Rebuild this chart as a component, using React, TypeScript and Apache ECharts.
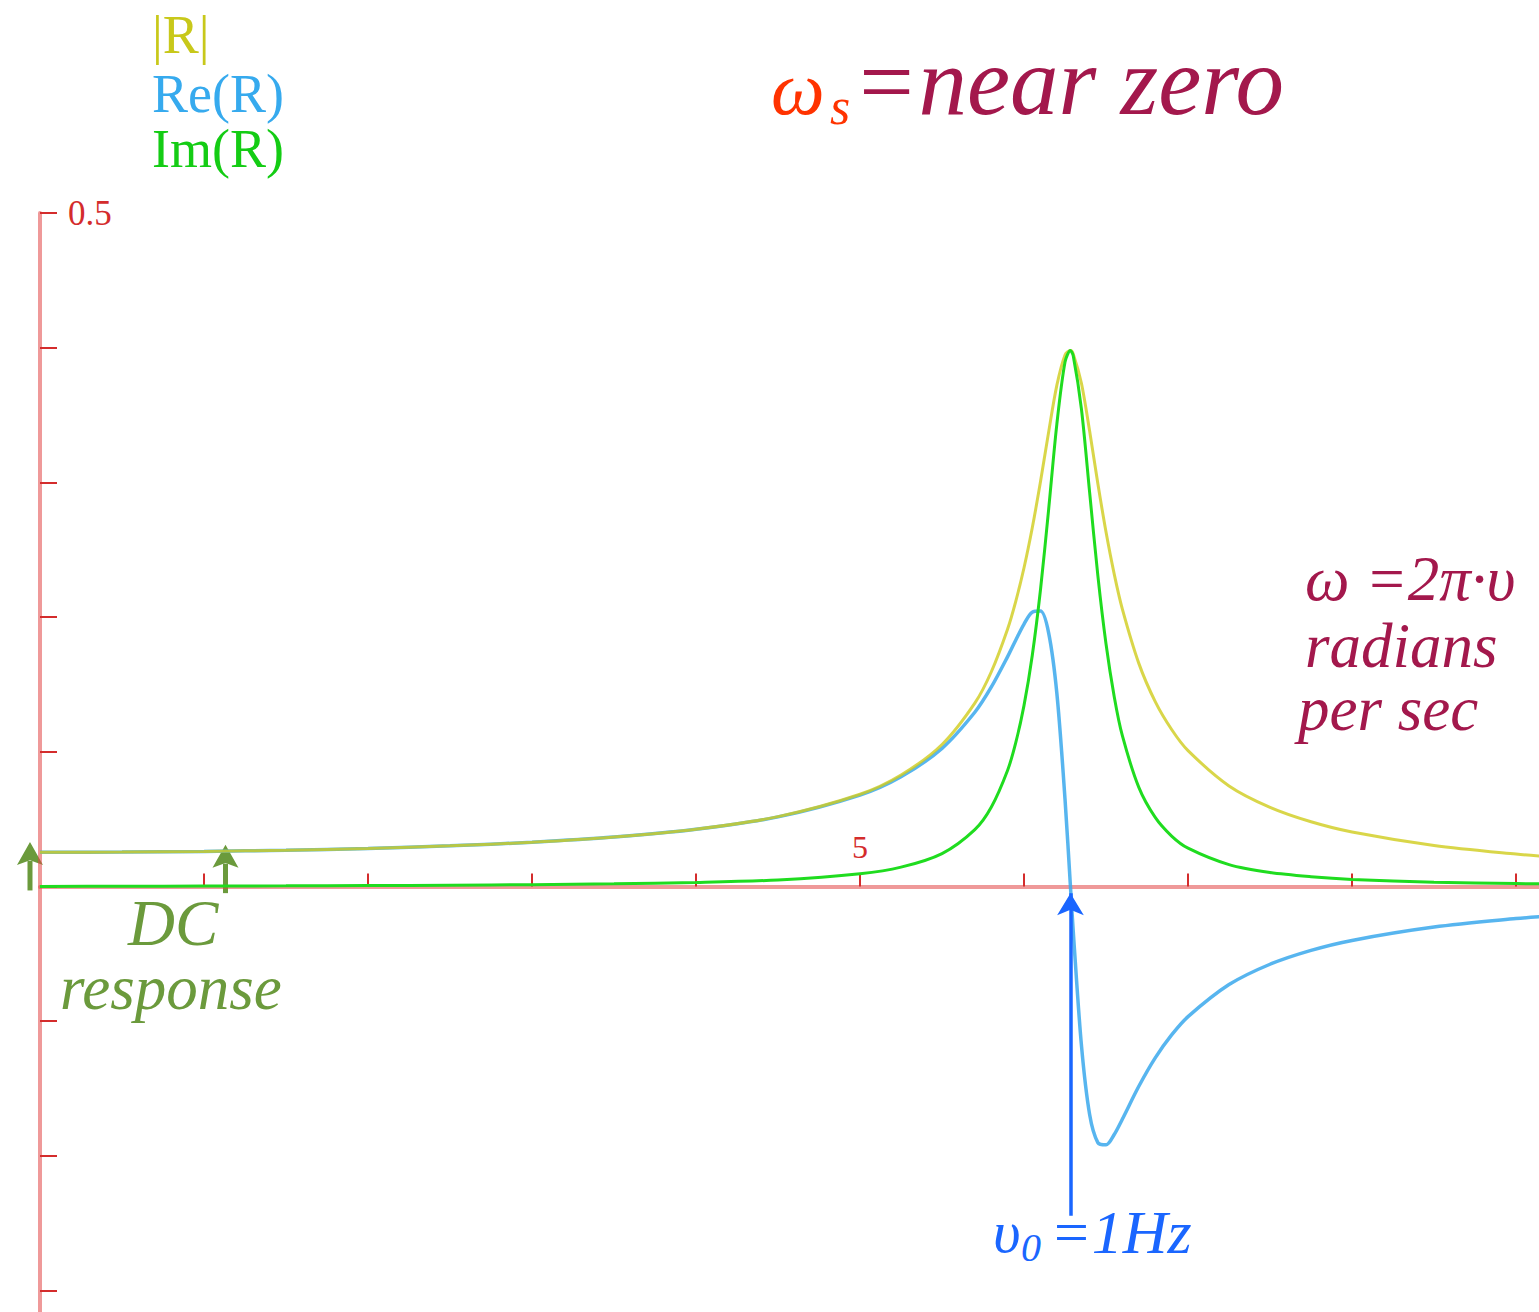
import React, { useEffect, useRef } from "react";
import * as echarts from "echarts";

// Angular frequency samples (rad/s), denser around the resonance at 2π
const omega = [
  0, 0.5, 1, 1.5, 2, 2.5, 3, 3.5, 4, 4.5, 5, 5.25, 5.5, 5.7, 5.8, 5.9, 5.95, 6,
  6.05, 6.1, 6.15, 6.2, 6.25, 6.283, 6.3, 6.35, 6.4, 6.45, 6.5, 6.55, 6.6, 6.7,
  6.8, 6.9, 7, 7.25, 7.5, 7.75, 8, 8.5, 9, 9.2,
];

// |R|
const magR = [
  0.0253, 0.0255, 0.026, 0.0269, 0.0282, 0.0301, 0.0328, 0.0367, 0.0425, 0.0518,
  0.0684, 0.0827, 0.1054, 0.1361, 0.1592, 0.1912, 0.2119, 0.2366, 0.2661, 0.3002,
  0.3373, 0.372, 0.3946, 0.3979, 0.3954, 0.3736, 0.3381, 0.2992, 0.2631, 0.2319,
  0.2057, 0.1656, 0.1372, 0.1165, 0.1008, 0.0746, 0.0587, 0.048, 0.0404, 0.0304,
  0.024, 0.0221,
];

// Re(R)
const reR = [
  0.0253, 0.0255, 0.026, 0.0269, 0.0282, 0.0301, 0.0328, 0.0366, 0.0424, 0.0516,
  0.0678, 0.0814, 0.1025, 0.1293, 0.1479, 0.1706, 0.183, 0.1948, 0.2036, 0.2044,
  0.1883, 0.1436, 0.0647, 0, -0.0332, -0.1179, -0.1694, -0.1902, -0.1919, -0.1842,
  -0.1727, -0.1484, -0.1273, -0.1103, -0.0967, -0.0729, -0.0578, -0.0475, -0.0401,
  -0.0302, -0.0239, -0.022,
];

// Im(R)
const imR = [
  0, 0.0001, 0.0003, 0.0004, 0.0006, 0.0009, 0.0013, 0.0019, 0.0029, 0.0048,
  0.0094, 0.0143, 0.0244, 0.0422, 0.0588, 0.0863, 0.1069, 0.1344, 0.1713, 0.2199,
  0.2798, 0.3431, 0.3893, 0.3979, 0.394, 0.3545, 0.2926, 0.231, 0.18, 0.1409,
  0.1117, 0.0735, 0.0512, 0.0374, 0.0284, 0.0162, 0.0103, 0.0072, 0.0052, 0.0031,
  0.0021, 0.0018,
];

const xTicks = [1, 2, 3, 4, 5, 6, 7, 8, 9];
const xLabelValue = 5;
const yTicks = [-0.3, -0.2, -0.1, 0, 0.1, 0.2, 0.3, 0.4, 0.5];
const yLabels = [0.5];

// resonance ω0 = 2π (ν0 = 1 Hz)
const omega0 = 6.2832;
// DC-response pointers: [ω, bottom, tip]
const dcArrows = [
  [-0.061, -0.003, 0.033],
  [1.131, -0.005, 0.031],
];

const AXIS_RED = "rgba(226,70,70,0.55)";
const TICK_RED = "#d42c2c";
const MAROON = "#a3184c";
const DC_GREEN = "#6b9a3c";
const SERIF = "Liberation Serif";

const pairs = (ys: number[]) => omega.map((x, i) => [x, ys[i]]);

const txt = (
  text: string,
  x: number,
  y: number,
  size: number,
  color: string,
  italic = true
) => ({
  type: "text",
  x,
  y,
  silent: true,
  style: {
    text,
    fill: color,
    fontFamily: SERIF,
    fontSize: size,
    fontStyle: italic ? "italic" : "normal",
    align: "left",
    verticalAlign: "middle",
  },
});

const labels = [
  // series key
  txt("|R|", 152, 35, 54, "#c8c81a", false),
  txt("Re(R)", 152, 94, 54, "#36aaee", false),
  txt("Im(R)", 152, 149, 54, "#14cc14", false),
  // heading
  txt("ω", 771, 88, 76, "#ff3300"),
  txt("s", 830, 106, 52, "#ff3300"),
  txt("=near zero", 853, 81, 97, MAROON),
  // frequency axis note
  txt("ω =2π·υ", 1305, 579, 63, MAROON),
  txt("radians", 1305, 646, 63, MAROON),
  txt("per sec", 1298, 709, 63, MAROON),
  // DC note
  txt("DC", 128, 923, 65, DC_GREEN),
  txt("response", 60, 988, 63, DC_GREEN),
  // resonance note
  txt("υ", 993, 1232, 60, "#1a66ff"),
  txt("0", 1021, 1247, 40, "#1a66ff"),
  txt("=1Hz", 1050, 1232, 62, "#1a66ff"),
];

export default function App() {
  const ref = useRef<HTMLDivElement>(null);

  useEffect(() => {
    if (!ref.current) return;
    const chart = echarts.init(ref.current, null, { renderer: "svg" });

    chart.setOption({
      animation: false,
      backgroundColor: "#ffffff",
      grid: { left: 40, right: 0, top: 213, bottom: 0, containLabel: false },
      xAxis: {
        type: "value",
        min: 0,
        max: 9.14,
        interval: 1,
        axisLine: { onZero: true, lineStyle: { color: AXIS_RED, width: 4 } },
        axisTick: {
          inside: true,
          length: 13,
          customValues: xTicks,
          lineStyle: { color: TICK_RED, width: 2 },
        },
        axisLabel: { show: false },
        splitLine: { show: false },
      },
      yAxis: {
        type: "value",
        min: -0.316,
        max: 0.5,
        axisLine: { onZero: false, lineStyle: { color: AXIS_RED, width: 4 } },
        axisTick: {
          inside: true,
          length: 17,
          customValues: yTicks,
          lineStyle: { color: TICK_RED, width: 2 },
        },
        axisLabel: {
          inside: true,
          margin: 28,
          customValues: yLabels,
          color: TICK_RED,
          fontFamily: SERIF,
          fontSize: 35,
        },
        splitLine: { show: false },
      },
      series: [
        {
          name: "Re(R)",
          type: "line",
          data: pairs(reR),
          smooth: 0.3,
          symbol: "none",
          clip: false,
          z: 2,
          lineStyle: { color: "#3aa8ec", width: 3.5, opacity: 0.85 },
          markLine: {
            silent: true,
            symbol: ["none", "arrow"],
            symbolSize: [20, 22],
            label: { show: false },
            emphasis: { disabled: true },
            lineStyle: { color: "#1a66ff", width: 3.5, type: "solid" },
            data: [[{ coord: [omega0, -0.2446] }, { coord: [omega0, -0.005] }]],
          },
        },
        {
          name: "|R|",
          type: "line",
          data: pairs(magR),
          smooth: 0.3,
          symbol: "none",
          clip: false,
          z: 3,
          lineStyle: { color: "#d0cc1c", width: 3, opacity: 0.8 },
        },
        {
          name: "Im(R)",
          type: "line",
          data: pairs(imR),
          smooth: 0.3,
          symbol: "none",
          clip: false,
          z: 4,
          lineStyle: { color: "#1fdc1f", width: 3 },
          // frequency tick label "5", placed just above the ω axis
          markPoint: {
            silent: true,
            symbol: "circle",
            symbolSize: 1,
            itemStyle: { color: "rgba(0,0,0,0)" },
            label: {
              show: true,
              position: "top",
              distance: 23,
              formatter: String(xLabelValue),
              color: TICK_RED,
              fontFamily: SERIF,
              fontSize: 32,
            },
            data: [{ coord: [xLabelValue, 0] }],
          },
        },
      ],
    });

    // DC pointers sit partly left of the plot, so they are drawn as graphics
    // positioned through the chart's own coordinate conversion.
    const arrowEls = dcArrows.map(([w, y0, y1]) => {
      const [px, pBottom] = chart.convertToPixel({ gridIndex: 0 }, [w, y0]);
      const [, pTip] = chart.convertToPixel({ gridIndex: 0 }, [w, y1]);
      const headH = 23;
      const headW = 26;
      return {
        type: "group",
        silent: true,
        z: 10,
        children: [
          {
            type: "line",
            shape: { x1: px, y1: pBottom, x2: px, y2: pTip + headH - 4 },
            style: { stroke: DC_GREEN, lineWidth: 5 },
          },
          {
            type: "polygon",
            shape: {
              points: [
                [px, pTip],
                [px + headW / 2, pTip + headH],
                [px, pTip + headH * 0.8],
                [px - headW / 2, pTip + headH],
              ],
            },
            style: { fill: DC_GREEN },
          },
        ],
      };
    });
    chart.setOption({ graphic: [...labels, ...arrowEls] });

    return () => chart.dispose();
  }, []);

  return (
    <div
      ref={ref}
      style={{ position: "absolute", left: 0, top: 0, width: 1539, height: 1312 }}
    />
  );
}
